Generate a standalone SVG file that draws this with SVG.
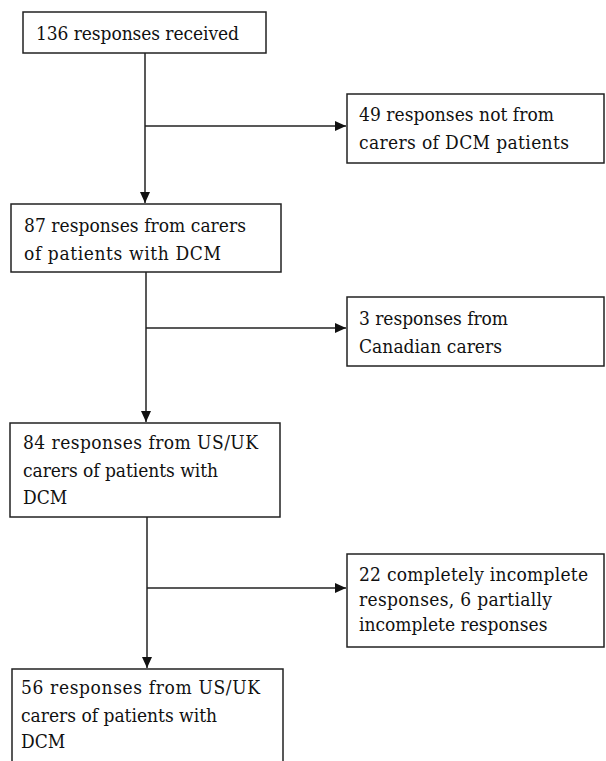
<svg xmlns="http://www.w3.org/2000/svg" width="606" height="761" viewBox="0 0 606 761">
<defs>
<marker id="ah" markerUnits="userSpaceOnUse" markerWidth="12" markerHeight="10" refX="11" refY="5" orient="auto">
<path d="M0,0 L11,5 L0,10 Z" fill="#111"/>
</marker>
<style>
.box{fill:#fff;stroke:#222;stroke-width:1.5}
.ln{fill:none;stroke:#222;stroke-width:1.5}
text{font-family:'DejaVu Serif Condensed','DejaVu Serif','Liberation Serif',serif;font-stretch:condensed;font-size:19px;fill:#111}
</style>
</defs>
<rect width="606" height="761" fill="#fff"/>
<g id="connectors">
<path class="ln" d="M145,53 V203" marker-end="url(#ah)"/>
<path class="ln" d="M145,126 H346" marker-end="url(#ah)"/>
<path class="ln" d="M146,272 V422" marker-end="url(#ah)"/>
<path class="ln" d="M146,328 H346" marker-end="url(#ah)"/>
<path class="ln" d="M147,517 V668" marker-end="url(#ah)"/>
<path class="ln" d="M147,588 H346" marker-end="url(#ah)"/>
</g>
<g id="n1">
<rect class="box" x="23" y="12" width="243" height="41"/>
<text x="36" y="40" textLength="203">136 responses received</text>
</g>
<g id="n2">
<rect class="box" x="347" y="94" width="257" height="69"/>
<text x="359" y="121" textLength="195">49 responses not from</text>
<text x="359" y="149" textLength="210">carers of DCM patients</text>
</g>
<g id="n3">
<rect class="box" x="11" y="204" width="270" height="68"/>
<text x="24" y="232" textLength="222">87 responses from carers</text>
<text x="24" y="260" textLength="197">of patients with DCM</text>
</g>
<g id="n4">
<rect class="box" x="347" y="297" width="257" height="69"/>
<text x="359" y="325" textLength="149">3 responses from</text>
<text x="359" y="353" textLength="143">Canadian carers</text>
</g>
<g id="n5">
<rect class="box" x="10" y="423" width="270" height="94"/>
<text x="23" y="449" textLength="235">84 responses from US/UK</text>
<text x="23" y="477" textLength="195">carers of patients with</text>
<text x="23" y="504">DCM</text>
</g>
<g id="n6">
<rect class="box" x="347" y="554" width="257" height="93"/>
<text x="359" y="581" textLength="229">22 completely incomplete</text>
<text x="359" y="606" textLength="193">responses, 6 partially</text>
<text x="359" y="631">incomplete responses</text>
</g>
<g id="n7">
<path class="ln" d="M12,770 V669 H283 V770"/>
<text x="21" y="694" textLength="239">56 responses from US/UK</text>
<text x="21" y="722">carers of patients with</text>
<text x="21" y="748">DCM</text>
</g>
</svg>
